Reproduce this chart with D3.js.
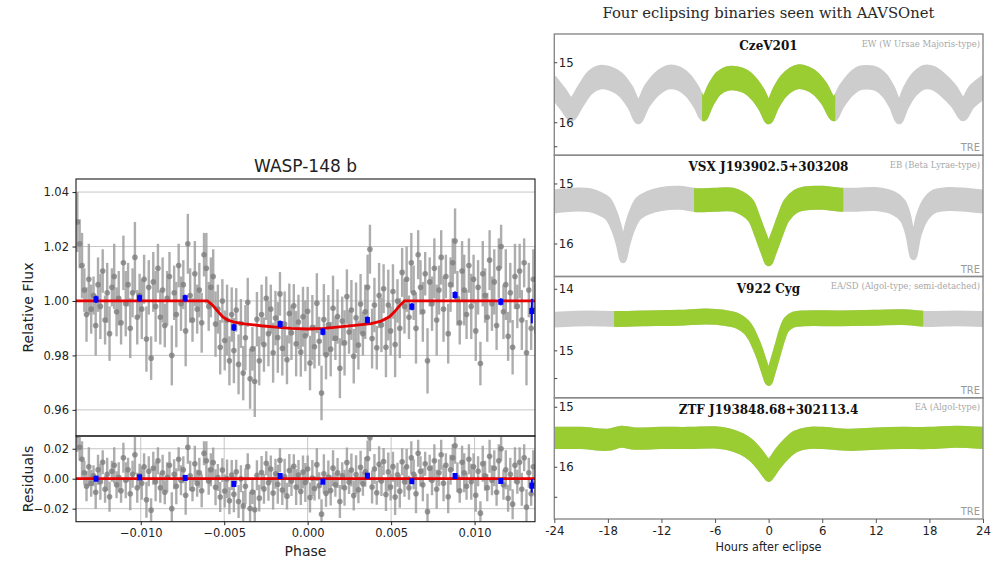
<!DOCTYPE html>
<html>
<head>
<meta charset="utf-8">
<script src="https://cdn.jsdelivr.net/npm/d3@7"></script>
<style>
  body { margin: 0; background: #fff; }
  svg { display: block; }
</style>
</head>
<body>
<svg id="chart" width="999" height="562"></svg>
<script>
// ---------- WASP-148 b (left) ----------
var grayPhase = [
  -0.01380,-0.01366,-0.01352,-0.01338,-0.01325,-0.01311,-0.01297,-0.01283,-0.01270,-0.01256,
  -0.01242,-0.01228,-0.01214,-0.01201,-0.01187,-0.01173,-0.01159,-0.01145,-0.01132,-0.01118,
  -0.01104,-0.01090,-0.01076,-0.01063,-0.01049,-0.01035,-0.01021,-0.01007,-0.00994,-0.00980,
  -0.00966,-0.00952,-0.00938,-0.00925,-0.00911,-0.00897,-0.00883,-0.00869,-0.00856,-0.00842,
  -0.00828,-0.00814,-0.00800,-0.00787,-0.00773,-0.00759,-0.00745,-0.00731,-0.00718,-0.00704,
  -0.00690,-0.00676,-0.00662,-0.00649,-0.00635,-0.00621,-0.00607,-0.00593,-0.00580,-0.00566,
  -0.00552,-0.00538,-0.00524,-0.00511,-0.00497,-0.00483,-0.00469,-0.00455,-0.00442,-0.00428,
  -0.00414,-0.00400,-0.00386,-0.00373,-0.00359,-0.00345,-0.00331,-0.00317,-0.00304,-0.00290,
  -0.00276,-0.00262,-0.00248,-0.00235,-0.00221,-0.00207,-0.00193,-0.00179,-0.00166,-0.00152,
  -0.00138,-0.00124,-0.00110,-0.00097,-0.00083,-0.00069,-0.00055,-0.00041,-0.00028,-0.00014,
   0.00000, 0.00014, 0.00028, 0.00041, 0.00055, 0.00069, 0.00083, 0.00097, 0.00110, 0.00124,
   0.00138, 0.00152, 0.00166, 0.00179, 0.00193, 0.00207, 0.00221, 0.00235, 0.00248, 0.00262,
   0.00276, 0.00290, 0.00304, 0.00317, 0.00331, 0.00345, 0.00359, 0.00373, 0.00386, 0.00400,
   0.00414, 0.00428, 0.00442, 0.00455, 0.00469, 0.00483, 0.00497, 0.00511, 0.00524, 0.00538,
   0.00552, 0.00566, 0.00580, 0.00593, 0.00607, 0.00621, 0.00635, 0.00649, 0.00662, 0.00676,
   0.00690, 0.00704, 0.00718, 0.00731, 0.00745, 0.00759, 0.00773, 0.00787, 0.00800, 0.00814,
   0.00828, 0.00842, 0.00856, 0.00869, 0.00883, 0.00897, 0.00911, 0.00925, 0.00938, 0.00952,
   0.00966, 0.00980, 0.00994, 0.01007, 0.01021, 0.01035, 0.01049, 0.01063, 0.01076, 0.01090,
   0.01104, 0.01118, 0.01132, 0.01145, 0.01159, 0.01173, 0.01187, 0.01201, 0.01214, 0.01228,
   0.01242, 0.01256, 0.01270, 0.01283, 0.01297, 0.01311, 0.01325, 0.01339, 0.01352, 0.01366
]
var grayFlux = [
  1.029,1.021,1.013,1.004,0.995,1.008,0.997,1.002,0.991,1.006,
  0.998,1.011,0.993,1.003,0.988,1.005,1.009,0.996,1.001,0.992,
  1.014,0.999,1.006,0.990,1.003,1.016,0.994,1.002,0.997,1.008,
  0.986,1.005,0.979,1.007,0.998,1.012,0.994,1.004,0.991,1.001,
  1.009,0.980,1.003,0.995,1.013,0.999,1.006,0.989,1.021,1.002,
  0.993,1.010,0.997,1.004,0.992,1.017,1.012,0.998,1.005,1.009,
  0.9915,0.997,0.983,1.000,0.9855,0.993,0.978,0.995,0.9818,0.9967,
  0.9767,0.9917,0.9735,0.9865,0.9995,0.9714,0.9824,0.9704,0.9933,0.978,
  0.995,0.984,1.001,0.988,0.997,0.981,0.9937,0.9866,1.0026,0.9826,
  0.9915,0.9784,0.9954,0.9883,0.9982,0.9843,0.9923,0.9812,0.9942,0.9872,
  0.9962,0.9772,0.9902,0.9832,0.9992,0.9852,0.9662,0.9932,0.9802,0.9912,
  0.9823,0.9973,0.9863,0.9943,0.9753,0.9926,0.9846,1.0016,0.9886,0.9967,
  0.9797,0.9938,0.9838,0.9989,0.988,0.996,1.005,1.019,0.9862,0.9985,
  0.9828,1.002,0.9912,1.0045,0.983,0.9985,0.989,1.0035,0.984,1.000,
  0.990,1.0105,0.998,1.008,0.994,1.014,1.003,0.990,1.017,1.005,
  0.996,1.010,0.978,1.007,0.999,1.012,0.993,1.004,1.016,0.997,
  1.009,0.988,1.006,1.014,1.022,1.001,0.992,1.011,1.004,0.995,
  1.013,0.998,1.008,0.989,1.005,0.977,1.010,1.002,0.994,1.015,
  0.999,1.007,0.991,1.012,1.020,0.996,1.006,0.987,1.003,0.983,
  1.009,0.998,1.011,0.993,1.014,0.981,1.004,0.990,1.008,0.997
]
var grayErr = [
  .011,.009,.012,.008,.010,.013,.009,.007,.011,.010,.012,.008,.009,.011,.010,.007,.012,.009,.010,.008,
  .010,.012,.008,.011,.009,.013,.010,.008,.011,.009,.012,.010,.008,.011,.013,.009,.010,.012,.008,.010,
  .009,.011,.010,.012,.008,.010,.009,.013,.011,.010,.008,.012,.009,.010,.011,.008,.013,.009,.011,.010,
  .012,.009,.010,.008,.011,.013,.009,.010,.012,.008,.011,.009,.010,.012,.009,.011,.008,.013,.010,.009,
  .011,.010,.008,.012,.009,.011,.010,.013,.008,.010,.012,.009,.011,.010,.008,.012,.010,.009,.011,.013,
  .009,.010,.012,.008,.011,.009,.010,.013,.009,.011,.010,.012,.008,.010,.011,.009,.012,.010,.008,.011,
  .010,.013,.009,.011,.008,.010,.012,.009,.011,.010,.008,.012,.010,.009,.011,.013,.009,.010,.012,.008,
  .011,.009,.010,.012,.008,.011,.010,.013,.009,.010,.011,.008,.012,.009,.010,.011,.013,.009,.010,.012,
  .008,.011,.010,.009,.012,.010,.008,.011,.013,.009,.010,.012,.009,.011,.010,.008,.012,.010,.009,.011,
  .010,.012,.009,.011,.008,.010,.013,.009,.011,.010,.012,.008,.010,.011,.009,.012,.010,.008,.011,.009
]

var modelPhase = [-0.01388,-0.0060,-0.0057,-0.0054,-0.0051,-0.0048,-0.0044,-0.0038,-0.0028,-0.0019,-0.0010,0.0000,
                  0.0010,0.0019,0.0028,0.0038,0.0044,0.0049,0.0052,0.0055,0.0058,0.01362]
var modelFlux  = [1.0000,1.0000,0.9985,0.9963,0.9942,0.9930,0.9922,0.9916,0.9909,0.9904,0.9899,0.9897,
                  0.9899,0.9905,0.9910,0.9917,0.9926,0.9942,0.9960,0.9982,1.0000,1.0000]

var binPhase    = [-0.01268,-0.01007,-0.00734,-0.00442,-0.00165,0.00091,0.00358,0.00624,0.00883,0.01157,0.01343]
var binFlux     = [1.0006,1.0010,1.0010,0.9903,0.9915,0.9887,0.9930,0.9979,1.0022,0.9997,0.9963]
var binErr      = [0.0013,0.0013,0.0013,0.0013,0.0013,0.0013,0.0013,0.0013,0.0013,0.0013,0.0045]
var binResidual = [0.0000,0.0009,0.0005,-0.0035,0.0018,-0.0020,0.0020,-0.0017,0.0018,-0.0015,-0.0047]

var fluxTicks     = [0.96, 0.98, 1.00, 1.02, 1.04]
var residualTicks = [-0.02, 0.00, 0.02]
var phaseTicks    = [-0.010, -0.005, 0.000, 0.005, 0.010]

// ---------- AAVSOnet eclipsing binaries (right) ----------
var czeHours = [-24,-23,-22.1,-21,-20,-18.9,-17.8,-16.6,-15.5,-14.6,-13.6,-12.5,-11.3,-10.1,-9,-8.1,-7.3,-6.5,-5.6,-4.6,
                -3.6,-2.6,-1.6,-0.8,0,0.8,1.6,2.5,3.4,4.3,5.2,6.2,7.3,8.2,9.2,10.1,11.1,12.1,13,13.8,
                14.6,15.4,16.3,17.4,18.5,19.6,20.7,21.8,22.7,24]
var czeMag   = [15.43,15.62,15.78,15.55,15.34,15.25,15.27,15.37,15.58,15.83,15.56,15.36,15.25,15.27,15.39,15.58,15.78,15.55,15.35,15.27,
                15.27,15.32,15.45,15.62,15.83,15.60,15.41,15.29,15.24,15.27,15.35,15.52,15.78,15.56,15.37,15.27,15.25,15.28,15.39,15.58,
                15.83,15.58,15.37,15.25,15.27,15.39,15.56,15.78,15.58,15.42]

var vsxHours = [-24,-22,-20,-19,-18,-17.3,-16.8,-16.3,-15.8,-15.3,-14.6,-13.5,-12,-10,-8,-6,-4,-3,-2,-1.3,-0.6,0,
                0.6,1.3,2,3,4,6,8,10,12,14,15,15.6,16.2,16.8,17.5,18.5,20,22,24]
var vsxMag   = [15.30,15.27,15.28,15.33,15.42,15.62,15.85,16.13,15.85,15.62,15.42,15.32,15.26,15.24,15.28,15.27,15.27,15.33,15.45,15.70,15.98,16.18,
                15.98,15.70,15.45,15.30,15.25,15.24,15.27,15.27,15.26,15.33,15.45,15.68,16.08,15.70,15.45,15.30,15.26,15.27,15.30]

var v922Hours = [-24,-20,-17,-14,-10,-7,-5,-3.5,-2.5,-2,-1.5,-1,-0.5,0,0.5,1,1.5,2,2.8,4,8,12,15,18,21,24]
var v922Mag   = [14.50,14.48,14.49,14.48,14.47,14.45,14.47,14.52,14.62,14.72,14.87,15.05,15.27,15.45,15.25,15.00,14.75,14.58,14.50,14.48,14.48,14.47,14.46,14.49,14.48,14.49]

var ztfHours = [-24,-21,-18,-16.5,-15,-12,-9,-6,-4.5,-3,-2,-1,-0.3,0,0.4,1,2,3,4.5,6,9,12,15,18,21,24]
var ztfMag   = [15.52,15.52,15.55,15.50,15.53,15.52,15.52,15.51,15.54,15.62,15.72,15.88,16.02,16.07,16.00,15.87,15.70,15.58,15.52,15.52,15.55,15.53,15.52,15.52,15.50,15.52]

var starNames   = ["CzeV201", "VSX J193902.5+303208", "V922 Cyg", "ZTF J193848.68+302113.4"]
var starTypes   = ["EW (W Ursae Majoris-type)", "EB (Beta Lyrae-type)", "EA/SD (Algol-type; semi-detached)", "EA (Algol-type)"]
var magDomains  = [[14.53, 16.55], [14.53, 16.55], [13.80, 15.77], [14.85, 16.87]]
var magTicks    = [[15, 16], [15, 16], [14, 15], [15, 16]]
var magMinor    = [[16.4], [], [15.45], [16.5]]
var bandHalf    = [0.155, 0.15, 0.08, 0.135]
var greenSpan   = [[-7.45, 7.45], [-8.35, 8.35], [-17.3, 17.3], [-24, 24]]
var hourTicks   = [-24, -18, -12, -6, 0, 6, 12, 18, 24]

var svg = d3.select("#chart")
var defs = svg.append("defs")

// ================= left chart =================
var sans = "DejaVu Sans, sans-serif"
var x = d3.scaleLinear().domain([-0.01388, 0.01362]).range([76, 535])
var yMain = d3.scaleLinear().domain([0.9504, 1.0448]).range([436, 179])
var yRes = d3.scaleLinear().domain([-0.0287, 0.0285]).range([521.7, 436])

var bisect = d3.bisector(d => d).right
function modelAt(p) {
    var i = Math.min(Math.max(bisect(modelPhase, p), 1), modelPhase.length - 1)
    var t = (p - modelPhase[i - 1]) / (modelPhase[i] - modelPhase[i - 1])
    return modelFlux[i - 1] + t * (modelFlux[i] - modelFlux[i - 1])
}

var gray = grayPhase.map((p, i) => ({p: p, f: grayFlux[i], e: grayErr[i], r: grayFlux[i] - modelAt(p)}))
var bins = binPhase.map((p, i) => ({p: p, f: binFlux[i], e: binErr[i], r: binResidual[i]}))
var model = modelPhase.map((p, i) => ({p: p, f: modelFlux[i]}))

defs.append("clipPath").attr("id", "clipMain").append("rect")
    .attr("x", x.range()[0]).attr("y", yMain.range()[1])
    .attr("width", x.range()[1] - x.range()[0]).attr("height", yMain.range()[0] - yMain.range()[1])
defs.append("clipPath").attr("id", "clipRes").append("rect")
    .attr("x", x.range()[0]).attr("y", yRes.range()[1])
    .attr("width", x.range()[1] - x.range()[0]).attr("height", yRes.range()[0] - yRes.range()[1])

function drawPanel(yScale, clipId, key, ticks, vertical) {
    var g = svg.append("g")
    var grid = g.append("g").attr("stroke", "#b8b8b8").attr("stroke-width", 0.8)
    grid.selectAll(".h").data(ticks).enter().append("line")
        .attr("x1", x.range()[0]).attr("x2", x.range()[1])
        .attr("y1", d => yScale(d)).attr("y2", d => yScale(d))
    if (vertical) {
        grid.selectAll(".v").data(phaseTicks).enter().append("line")
            .attr("x1", d => x(d)).attr("x2", d => x(d))
            .attr("y1", yScale.range()[0]).attr("y2", yScale.range()[1])
    }
    var pts = g.append("g").attr("clip-path", "url(#" + clipId + ")")
    var val = d => key === "f" ? d.f : d.r
    var base = key === "f" ? model : model.map(d => ({p: d.p, f: 0}))

    pts.append("g").selectAll("line").data(gray).enter().append("line")
        .attr("x1", d => x(d.p)).attr("x2", d => x(d.p))
        .attr("y1", d => yScale(val(d) - d.e)).attr("y2", d => yScale(val(d) + d.e))
        .attr("stroke", "#999").attr("stroke-opacity", 0.8).attr("stroke-width", 2.4)
    pts.append("g").selectAll("circle").data(gray).enter().append("circle")
        .attr("cx", d => x(d.p)).attr("cy", d => yScale(val(d))).attr("r", 2.8)
        .attr("fill", "#7e7e7e").attr("fill-opacity", 0.8)

    pts.append("path").datum(base)
        .attr("d", d3.line().x(d => x(d.p)).y(d => yScale(d.f)))
        .attr("fill", "none").attr("stroke", "#e60000").attr("stroke-width", 2.8)

    pts.append("g").selectAll("line").data(bins).enter().append("line")
        .attr("x1", d => x(d.p)).attr("x2", d => x(d.p))
        .attr("y1", d => yScale(val(d) - d.e)).attr("y2", d => yScale(val(d) + d.e))
        .attr("stroke", "#0000ff").attr("stroke-width", 2)
    pts.append("g").selectAll("rect").data(bins).enter().append("rect")
        .attr("x", d => x(d.p) - 2.5).attr("y", d => yScale(val(d)) - 3)
        .attr("width", 5).attr("height", 6).attr("fill", "#0000ff")

    g.append("rect")
        .attr("x", x.range()[0]).attr("y", yScale.range()[1])
        .attr("width", x.range()[1] - x.range()[0]).attr("height", yScale.range()[0] - yScale.range()[1])
        .attr("fill", "none").attr("stroke", "#1a1a1a").attr("stroke-width", 1.1)

    var ax = g.append("g").attr("transform", "translate(" + x.range()[0] + ",0)")
        .call(d3.axisLeft(yScale).tickValues(ticks).tickFormat(d3.format(".2f")).tickSize(3.5).tickPadding(3.5))
    ax.select(".domain").remove()
    ax.selectAll("text").attr("font-family", sans).attr("font-size", 11.5).attr("fill", "#222")
    ax.selectAll("line").attr("stroke", "#222")
    return g
}

drawPanel(yMain, "clipMain", "f", fluxTicks, false)
drawPanel(yRes, "clipRes", "r", residualTicks, true)

var xAx = svg.append("g").attr("transform", "translate(0," + yRes.range()[0] + ")")
    .call(d3.axisBottom(x).tickValues(phaseTicks).tickFormat(d3.format(".3f")).tickSize(3.5).tickPadding(3.5))
xAx.select(".domain").remove()
xAx.selectAll("text").attr("font-family", sans).attr("font-size", 11.5).attr("fill", "#222")
xAx.selectAll("line").attr("stroke", "#222")

svg.append("text").attr("x", 305.5).attr("y", 172).attr("text-anchor", "middle")
    .attr("font-family", sans).attr("font-size", 17).attr("fill", "#222").text("WASP-148 b")
svg.append("text").attr("x", 305.5).attr("y", 556).attr("text-anchor", "middle")
    .attr("font-family", sans).attr("font-size", 14).attr("fill", "#222").text("Phase")
svg.append("text").attr("transform", "translate(33,307.5) rotate(-90)").attr("text-anchor", "middle")
    .attr("font-family", sans).attr("font-size", 14).attr("fill", "#222").text("Relative Flux")
svg.append("text").attr("transform", "translate(33,479) rotate(-90)").attr("text-anchor", "middle")
    .attr("font-family", sans).attr("font-size", 14).attr("fill", "#222").text("Residuals")

// ================= right chart =================
var narrow = "Liberation Sans Narrow, DejaVu Sans Condensed, sans-serif"
var serif = "DejaVu Serif, serif"
var hx = d3.scaleLinear().domain([-24, 24]).range([554.3, 983])
var rows = d3.scaleBand().domain(starNames).range([34, 519])

var curves = [
    czeHours.map((h, i) => ({h: h, m: czeMag[i]})),
    vsxHours.map((h, i) => ({h: h, m: vsxMag[i]})),
    v922Hours.map((h, i) => ({h: h, m: v922Mag[i]})),
    ztfHours.map((h, i) => ({h: h, m: ztfMag[i]}))
]

svg.append("text").attr("x", 768.5).attr("y", 18).attr("text-anchor", "middle")
    .attr("font-family", serif).attr("font-size", 14).attr("fill", "#2a2a2a")
    .attr("textLength", 332).attr("lengthAdjust", "spacingAndGlyphs")
    .text("Four eclipsing binaries seen with AAVSOnet")

starNames.forEach(function(name, i) {
    var top = rows(name), bottom = top + rows.bandwidth()
    var y = d3.scaleLinear().domain(magDomains[i]).range([top, bottom])
    var half = bandHalf[i]
    var g = svg.append("g")

    defs.append("clipPath").attr("id", "panel" + i).append("rect")
        .attr("x", hx(-24)).attr("y", top).attr("width", hx(24) - hx(-24)).attr("height", bottom - top)
    defs.append("clipPath").attr("id", "green" + i).append("rect")
        .attr("x", hx(greenSpan[i][0])).attr("y", top)
        .attr("width", hx(greenSpan[i][1]) - hx(greenSpan[i][0])).attr("height", bottom - top)

    var band = d3.area()
        .x(d => hx(d.h))
        .y0(d => y(d.m + half))
        .y1(d => y(d.m - half))
        .curve(d3.curveCatmullRom.alpha(0.5))

    var inner = g.append("g").attr("clip-path", "url(#panel" + i + ")")
    inner.append("path").datum(curves[i]).attr("d", band)
        .attr("fill", "#cdcdcd").attr("stroke", "#cdcdcd").attr("stroke-width", 6).attr("stroke-linejoin", "round")
    inner.append("g").attr("clip-path", "url(#green" + i + ")")
        .append("path").datum(curves[i]).attr("d", band)
        .attr("fill", "#9acd32").attr("stroke", "#9acd32").attr("stroke-width", 6).attr("stroke-linejoin", "round")

    g.append("rect").attr("x", hx(-24)).attr("y", top)
        .attr("width", hx(24) - hx(-24)).attr("height", bottom - top)
        .attr("fill", "none").attr("stroke", "#8a8a8a").attr("stroke-width", 1.4)

    var yAx = g.append("g").attr("transform", "translate(" + hx(-24) + ",0)")
        .call(d3.axisRight(y).tickValues(magTicks[i]).tickFormat(d3.format("d")).tickSize(3).tickPadding(1.5))
    yAx.select(".domain").remove()
    yAx.selectAll("text").attr("font-family", narrow).attr("font-size", 13).attr("fill", "#222")
    yAx.selectAll("line").attr("stroke", "#444")
    var yMin = g.append("g").attr("transform", "translate(" + hx(-24) + ",0)")
        .call(d3.axisRight(y).tickValues(magMinor[i]).tickFormat("").tickSize(3))
    yMin.select(".domain").remove()
    yMin.selectAll("line").attr("stroke", "#444")

    g.append("text").attr("x", 768.5).attr("y", top + 16).attr("text-anchor", "middle")
        .attr("font-family", serif).attr("font-weight", "bold").attr("font-size", 12)
        .attr("fill", "#111").text(name)
    g.append("text").attr("x", 980).attr("y", top + 12.5).attr("text-anchor", "end")
        .attr("font-family", serif).attr("font-size", 8.5).attr("fill", "#a8a8a8").text(starTypes[i])
    g.append("text").attr("x", 980).attr("y", bottom - 4).attr("text-anchor", "end")
        .attr("font-family", narrow).attr("font-size", 11).attr("fill", "#9a9a9a").text("TRE")
})

var hAx = svg.append("g").attr("transform", "translate(0," + rows.range()[1] + ")")
    .call(d3.axisBottom(hx).tickValues(hourTicks).tickFormat(d => d < 0 ? "-" + Math.abs(d) : String(d)).tickSize(4).tickPadding(3))
hAx.select(".domain").remove()
hAx.selectAll("text").attr("font-family", narrow).attr("font-size", 13).attr("fill", "#222")
hAx.selectAll("line").attr("stroke", "#555")

svg.append("text").attr("x", 768.5).attr("y", 551).attr("text-anchor", "middle")
    .attr("font-family", narrow).attr("font-size", 12.5).attr("fill", "#222").text("Hours after eclipse")
</script>
</body>
</html>
